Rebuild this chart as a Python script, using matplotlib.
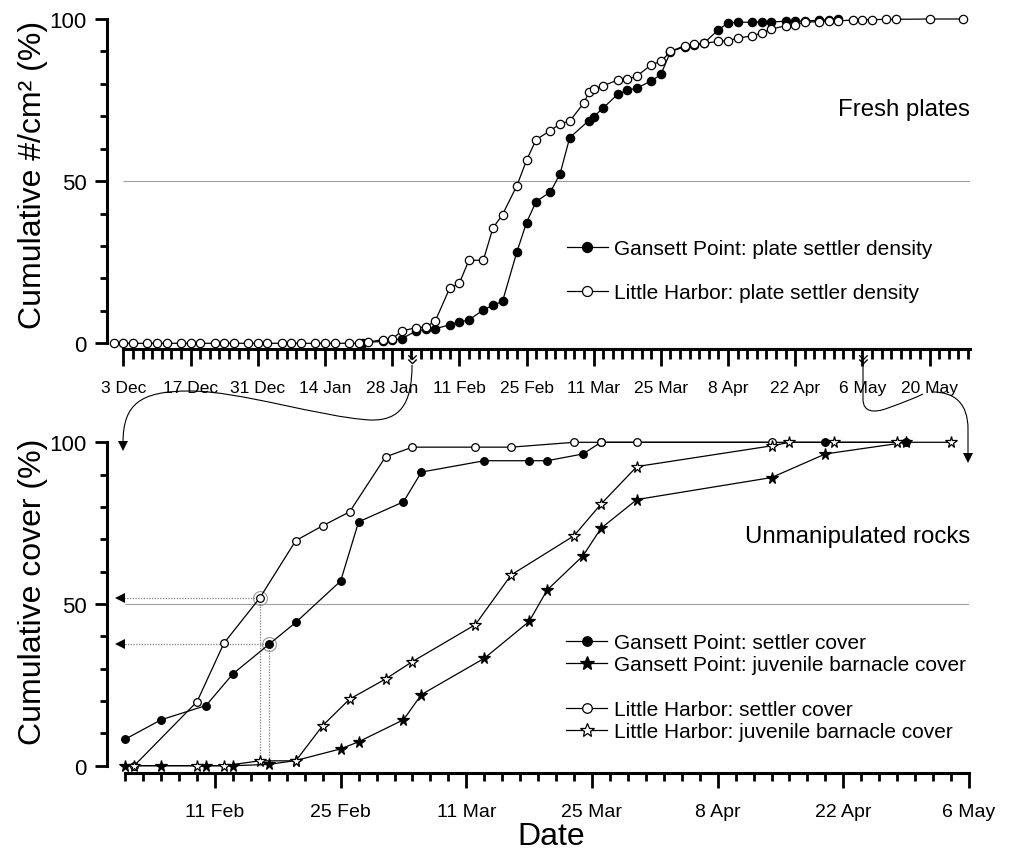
import matplotlib
matplotlib.use('Agg')
import matplotlib.pyplot as plt
from matplotlib import font_manager
from matplotlib.lines import Line2D
from matplotlib.path import Path
from matplotlib.patches import PathPatch
from matplotlib.transforms import IdentityTransform
from matplotlib.ticker import FixedLocator, MultipleLocator
import numpy as np

# x values are days counted from 3 Dec
# --- top panel: fresh plates ---
plate_lh_days = [-2, 0, 2, 5, 7, 9, 12, 14, 16, 19, 21, 23, 26, 28, 30, 33, 35, 37, 40, 42, 44,
                 47, 49, 51, 54, 56, 58, 61, 63, 65, 68, 70, 72, 75, 77, 79, 82, 84, 86, 89, 91,
                 93, 96, 97, 98, 100, 103, 105, 107, 110, 112, 114, 117, 119, 121, 124, 126, 128,
                 131, 133, 135, 138, 140, 142, 145, 147, 149, 152, 154, 156, 159, 161, 168, 175]
plate_lh_vals = [0] * 23 + [0.4, 1.1, 1.3, 3.8, 4.8, 5.0, 6.9, 17.0, 18.5, 25.6, 25.6, 35.5, 39.7,
                            48.6, 56.4, 62.8, 65.6, 67.7, 68.5, 74.2, 77.4, 78.4, 79.4, 81.2, 81.4,
                            82.4, 85.9, 86.9, 90.0, 91.8, 92.3, 92.5, 93.1, 93.3, 94.1, 94.8, 95.7,
                            96.9, 97.9, 98.2, 99.0, 99.2, 99.3, 99.4, 99.7, 99.8, 99.8, 99.9, 99.9,
                            100, 100]
plate_gp_days = [50, 54, 56, 58, 61, 63, 65, 68, 70, 72, 75, 77, 79, 82, 84, 86, 89, 91, 93, 97,
                 98, 100, 103, 105, 107, 110, 112, 114, 117, 119, 121, 124, 126, 128, 131, 133,
                 135, 138, 140, 142, 145, 147, 149]
plate_gp_vals = [0.2, 0.6, 0.9, 1.4, 3.8, 4.3, 4.5, 5.7, 6.6, 7.2, 10.3, 11.7, 12.9, 28.2, 37.2,
                 43.7, 46.7, 52.3, 63.4, 68.7, 69.9, 72.6, 76.8, 78.0, 78.7, 80.9, 82.9, 89.9,
                 91.5, 92.0, 92.6, 96.7, 98.8, 99.0, 99.0, 99.1, 99.1, 99.3, 99.3, 99.4, 99.6,
                 99.8, 100]

# --- bottom panel: unmanipulated rocks ---
gp_settler_days = [60, 64, 69, 72, 76, 79, 84, 86, 91, 93, 100, 105, 107, 111, 113, 138, 147]
gp_settler_vals = [8.2, 14.2, 18.6, 28.4, 37.5, 44.3, 57.1, 75.4, 81.6, 90.8, 94.3, 94.3, 94.3,
                   96.4, 100, 100, 100]
gp_juv_days = [60, 64, 69, 72, 76, 79, 84, 86, 91, 93, 100, 105, 107, 111, 113, 117, 132, 138, 147]
gp_juv_vals = [0, 0, 0, 0, 0.4, 1.6, 5.2, 7.4, 14.2, 22.0, 33.2, 44.6, 54.3, 64.9, 73.4, 82.3,
               89.1, 96.4, 100]
lh_settler_days = [61, 68, 71, 75, 79, 82, 85, 89, 92, 99, 103, 110, 113, 117, 132]
lh_settler_vals = [0, 19.8, 37.9, 51.9, 69.6, 74.2, 78.5, 95.5, 98.5, 98.5, 98.5, 100, 100, 100, 100]
lh_juv_days = [61, 68, 71, 75, 79, 82, 85, 89, 92, 99, 103, 110, 113, 117, 132, 134, 139, 146, 152]
lh_juv_vals = [0, 0, 0, 1.5, 1.5, 12.4, 20.6, 26.8, 32.2, 43.6, 59.0, 71.1, 80.9, 92.5, 98.9,
               100, 100, 100, 100]

top_tick_days = [0, 14, 28, 42, 56, 70, 84, 98, 112, 126, 140, 154, 168]
top_tick_labels = ['3 Dec', '17 Dec', '31 Dec', '14 Jan', '28 Jan', '11 Feb', '25 Feb',
                   '11 Mar', '25 Mar', '8 Apr', '22 Apr', '6 May', '20 May']
bot_tick_days = [70, 84, 98, 112, 126, 140, 154]
bot_tick_labels = ['11 Feb', '25 Feb', '11 Mar', '25 Mar', '8 Apr', '22 Apr', '6 May']

# points picked out with rings / arrows in the lower panel (index into the series)
lh_pick = 3
gp_pick = 4

W, H = 1012, 854
plt.rcParams['font.family'] = ['Liberation Sans', 'DejaVu Sans']

installed = {f.name for f in font_manager.fontManager.ttflist}
if 'Liberation Sans Narrow' in installed:
    label_family, label_size = ['Liberation Sans Narrow', 'Liberation Sans'], 27
else:
    label_family, label_size = ['Liberation Sans', 'DejaVu Sans'], 23


def frac(left, top, right, bottom):
    return [left / W, 1 - bottom / H, (right - left) / W, (bottom - top) / H]


def img(x, y):
    # picture pixel (origin top-left) -> display coords
    return (x, H - y)


fig = plt.figure(figsize=(W / 100, H / 100), dpi=100)
ax_top = fig.add_axes(frac(107, 20, 970, 350))
ax_bot = fig.add_axes(frac(107, 443.3, 969, 774))

ax_top.set_xlim(-3.4, 176.4)
ax_top.set_ylim(-1.76, 100)
ax_bot.set_xlim(57.97, 154.0)
ax_bot.set_ylim(-2.26, 100)

for ax in (ax_top, ax_bot):
    ax.spines['top'].set_visible(False)
    ax.spines['right'].set_visible(False)
    ax.spines['left'].set_linewidth(2.2)
    ax.spines['bottom'].set_linewidth(2.2)
    ax.spines['left'].set_bounds(0, 100)
    ax.yaxis.set_major_locator(FixedLocator([0, 50, 100]))
    ax.yaxis.set_minor_locator(MultipleLocator(10))
    ax.tick_params(axis='y', which='major', length=8.5, width=2, labelsize=16, pad=6)
    ax.tick_params(axis='y', which='minor', length=5, width=2)
    ax.patch.set_visible(False)

ax_top.spines['bottom'].set_bounds(0, 176.4)
ax_top.set_xticks(top_tick_days, top_tick_labels)
ax_top.xaxis.set_minor_locator(FixedLocator(np.arange(0, 177, 2)))
ax_top.tick_params(axis='x', which='major', length=12, width=2, labelsize=12.5, pad=10)
ax_top.tick_params(axis='x', which='minor', length=7, width=2)

ax_bot.spines['bottom'].set_bounds(60, 154)
ax_bot.set_xticks(bot_tick_days, bot_tick_labels)
ax_bot.xaxis.set_minor_locator(FixedLocator(np.arange(60, 155, 2)))
ax_bot.tick_params(axis='x', which='major', length=11, width=2, labelsize=14, pad=10.5)
ax_bot.tick_params(axis='x', which='minor', length=6, width=2)

ax_top.hlines(50, 0, 176.4, color='#a0a0a0', lw=0.8, zorder=1)
ax_bot.hlines(50, 60, 154, color='#a0a0a0', lw=0.8, zorder=1)

line_kw = dict(color='black', lw=0.9, mec='black', mew=0.9, clip_on=False, zorder=3)

# top panel
ax_top.plot(plate_gp_days, plate_gp_vals, marker='o', ms=6, mfc='black',
            label='Gansett Point: plate settler density', **line_kw)
ax_top.plot(plate_lh_days, plate_lh_vals, marker='o', ms=6, mfc='white',
            label='Little Harbor: plate settler density', **line_kw)

ax_top.legend(loc='upper left', bbox_to_anchor=(0.533, 0.332), frameon=False, fontsize=15,
              handlelength=1.95, handletextpad=0.32, labelspacing=1.18, borderpad=0,
              borderaxespad=0, markerscale=1.2)
ax_top.text(1.0, 0.727, 'Fresh plates', transform=ax_top.transAxes, ha='right', va='center',
            fontsize=17.3)
ax_top.set_ylabel('Cumulative #/cm² (%)', family=label_family, fontsize=label_size)
ax_top.yaxis.set_label_coords(-0.068, 0.53)

# bottom panel
h1, = ax_bot.plot(gp_settler_days, gp_settler_vals, marker='o', ms=5.5, mfc='black',
                  label='Gansett Point: settler cover', **line_kw)
h2, = ax_bot.plot(gp_juv_days, gp_juv_vals, marker='*', ms=8.5, mfc='black',
                  label='Gansett Point: juvenile barnacle cover', **line_kw)
h3, = ax_bot.plot(lh_settler_days, lh_settler_vals, marker='o', ms=5.5, mfc='white',
                  label='Little Harbor: settler cover', **line_kw)
h4, = ax_bot.plot(lh_juv_days, lh_juv_vals, marker='*', ms=8.5, mfc='white',
                  label='Little Harbor: juvenile barnacle cover', **line_kw)
blank = Line2D([], [], linestyle='none', marker='none', label=' ')
ax_bot.legend(handles=[h1, h2, blank, h3, h4], loc='upper left', bbox_to_anchor=(0.533, 0.4234),
              frameon=False, fontsize=15, handlelength=1.95, handletextpad=0.32,
              labelspacing=0.16, borderpad=0, borderaxespad=0, markerscale=1.25)
ax_bot.text(1.001, 0.7167, 'Unmanipulated rocks', transform=ax_bot.transAxes, ha='right',
            va='center', fontsize=17.3)
ax_bot.set_ylabel('Cumulative cover (%)', family=label_family, fontsize=label_size)
ax_bot.yaxis.set_label_coords(-0.068, 0.55)

# read-off guides for the two picked points
for d, v in [(lh_settler_days[lh_pick], lh_settler_vals[lh_pick]),
             (gp_settler_days[gp_pick], gp_settler_vals[gp_pick])]:
    ax_bot.plot(d, v, marker='o', ms=10, mfc='none', mec='#9a9a9a', mew=0.8, zorder=2)
    ax_bot.plot([d, 59.2], [v, v], linestyle=(0, (1, 1.2)), color='#808080', lw=0.9, zorder=2)
    ax_bot.plot([d, d], [v, 0], linestyle=(0, (1, 1.2)), color='#808080', lw=0.9, zorder=2)
    ax_bot.plot(59.4, v, marker='<', ms=7, color='black', mew=0, clip_on=False, zorder=4)

fig.text(551 / W, 1 - 837 / H, 'Date', ha='center', va='center', family=label_family,
         fontsize=label_size)

# zoom connectors between the panels
curve1 = [img(412, 366), img(412, 405), img(400, 422), img(370, 421),
          img(320, 418), img(240, 392), img(190, 392),
          img(140, 392), img(123, 405), img(123, 444)]
codes1 = [Path.MOVETO] + [Path.CURVE4] * 9
curve2a = [img(863, 366), img(863, 400), img(863, 414), img(875, 414), img(888, 409),
           img(902, 404), img(915, 399), img(923, 395)]
codes2a = [Path.MOVETO, Path.LINETO] + [Path.CURVE4] * 6
curve2b = [img(933, 393), img(955, 393), img(968, 405), img(968, 430), img(968, 456)]
codes2b = [Path.MOVETO, Path.CURVE4, Path.CURVE4, Path.CURVE4, Path.LINETO]
for verts, codes in [(curve1, codes1), (curve2a, codes2a), (curve2b, codes2b)]:
    fig.add_artist(PathPatch(Path(verts, codes), transform=IdentityTransform(),
                             facecolor='none', edgecolor='black', lw=0.8))

for x, y in [(123, 447), (968, 459)]:
    fig.add_artist(Line2D([x / W], [1 - y / H], marker='v', ms=7, color='black', mew=0,
                          transform=fig.transFigure))

# small double chevrons marking where the lower panel's date range starts and ends
chevron = Path([(-1, 1), (0, 0), (1, 1), (-1, 0), (0, -1), (1, 0)],
               [Path.MOVETO, Path.LINETO, Path.LINETO, Path.MOVETO, Path.LINETO, Path.LINETO])
for x in (412, 863):
    fig.add_artist(Line2D([x / W], [1 - 360 / H], marker=chevron, ms=6, mfc='none', mec='black',
                          mew=1.0, linestyle='none', transform=fig.transFigure))

fig.savefig('out.png', dpi=100)
